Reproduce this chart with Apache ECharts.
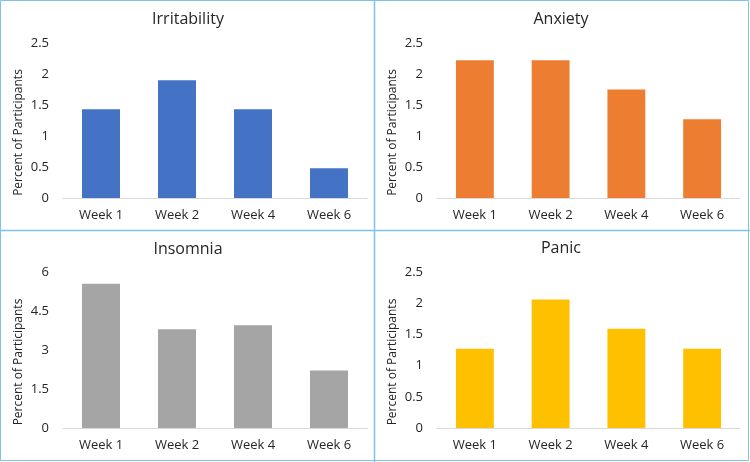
<!DOCTYPE html>
<html>
<head>
<meta charset="utf-8">
<script src="https://cdn.jsdelivr.net/npm/echarts@6/dist/echarts.min.js"></script>
<style>html,body{margin:0;padding:0;background:#fff}#c{width:750px;height:462px}</style>
</head>
<body>
<div id="c"></div>
<script>
var categories = ['Week 1', 'Week 2', 'Week 4', 'Week 6'];
var titles = ['Irritability', 'Anxiety', 'Insomnia', 'Panic'];
var irritability = [1.43, 1.90, 1.43, 0.48];
var anxiety = [2.22, 2.22, 1.75, 1.27];
var insomnia = [5.55, 3.80, 3.95, 2.21];
var panic = [1.27, 2.06, 1.59, 1.27];
var yMax = [2.5, 2.5, 6, 2.5];
var yInterval = [0.5, 0.5, 1.5, 0.5];
var yAxisName = 'Percent of Participants';

var seriesData = [irritability, anxiety, insomnia, panic];
var colors = ['#4472C4', '#ED7D31', '#A5A5A5', '#FFC000'];
var grids = [
  {left: 63, top: 43, width: 304, height: 155},
  {left: 437, top: 43, width: 303, height: 155},
  {left: 63, top: 272, width: 304, height: 156},
  {left: 437, top: 272, width: 303, height: 156}
];
var titlePos = [
  {x: 188, y: 11}, {x: 561, y: 11}, {x: 188, y: 241}, {x: 561, y: 240}
];
var font = 'Open Sans';
var chart = echarts.init(document.getElementById('c'));
var option = {
  animation: false,
  backgroundColor: '#fff',
  title: titles.map(function (t, i) {
    return {text: t, left: titlePos[i].x, top: titlePos[i].y, textAlign: 'center', padding: 0,
      textStyle: {fontFamily: font, fontSize: 16, fontWeight: 'normal', color: '#262626'}};
  }),
  grid: grids,
  xAxis: titles.map(function (t, i) {
    return {type: 'category', gridIndex: i, data: categories,
      axisLine: {lineStyle: {color: '#D9D9D9', width: 1}},
      axisTick: {show: false},
      axisLabel: {fontFamily: font, fontSize: 13, color: '#262626', margin: 11}};
  }),
  yAxis: titles.map(function (t, i) {
    return {type: 'value', gridIndex: i, min: 0, max: yMax[i], interval: yInterval[i],
      name: yAxisName, nameLocation: 'middle', nameGap: 38, nameRotate: 90,
      nameTextStyle: {fontFamily: font, fontSize: 12, color: '#262626', padding: [0, 24, 0, 0]},
      axisLine: {show: false}, axisTick: {show: false}, splitLine: {show: false},
      axisLabel: {fontFamily: font, fontSize: 13, color: '#262626', margin: 14}};
  }),
  series: seriesData.map(function (d, i) {
    return {type: 'bar', xAxisIndex: i, yAxisIndex: i, data: d, barWidth: '50%',
      itemStyle: {color: colors[i]}};
  }),
  graphic: [
    {type: 'rect', shape: {x: 0.5, y: 0.5, width: 748, height: 460}, style: {fill: 'none', stroke: '#7CC4EC', lineWidth: 1}},
    {type: 'line', shape: {x1: 374.5, y1: 0, x2: 374.5, y2: 462}, style: {stroke: '#7CC4EC', lineWidth: 1.5}},
    {type: 'line', shape: {x1: 0, y1: 230.5, x2: 750, y2: 230.5}, style: {stroke: '#7CC4EC', lineWidth: 1.5}}
  ]
};
chart.setOption(option);
</script>
</body>
</html>
